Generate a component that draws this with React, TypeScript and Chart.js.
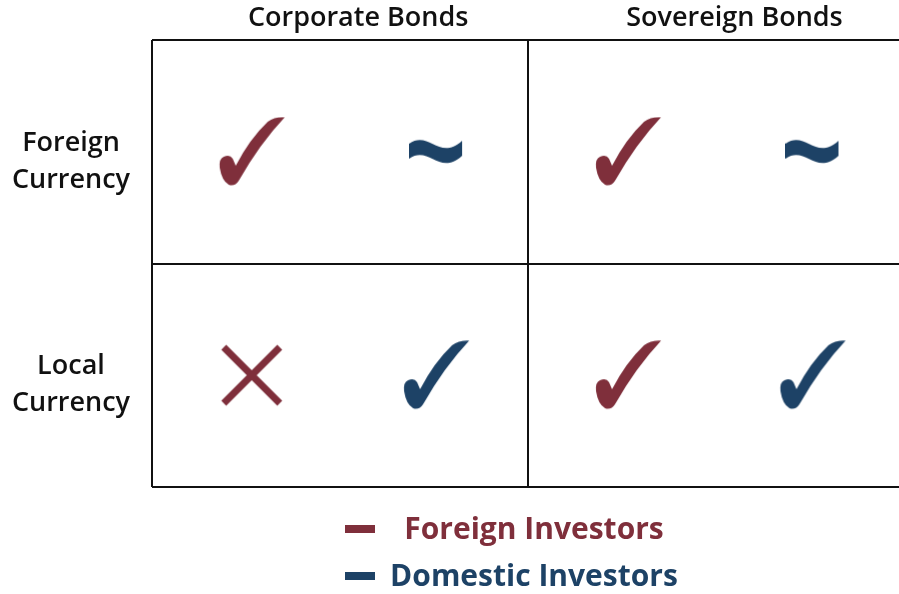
import React, { useEffect, useRef } from "react";
import { Chart, registerables } from "chart.js";

Chart.register(...registerables);

// ---- data ----
const bondTypes = ["Corporate Bonds", "Sovereign Bonds"];
const currencyTypes = [["Foreign", "Currency"], ["Local", "Currency"]];
const investorSeries = ["Foreign Investors", "Domestic Investors"];
// cell verdicts, ordered [row][bondType]: rows = Foreign Currency, Local Currency
const foreignVerdicts = [
  ["check", "check"],
  ["cross", "check"],
];
const domesticVerdicts = [
  ["tilde", "tilde"],
  ["check", "check"],
];

const RED = "#7f2f3b";
const BLUE = "#1d4266";
const FONT = "'Open Sans', 'Noto Sans', sans-serif";

function makeCanvas(w: number, h: number) {
  const c = document.createElement("canvas");
  c.width = w;
  c.height = h;
  return c;
}

function checkSymbol(color: string) {
  const c = makeCanvas(68, 70);
  const ctx = c.getContext("2d")!;
  ctx.fillStyle = color;
  ctx.beginPath();
  ctx.moveTo(50, 5);
  ctx.bezierCurveTo(55, 1, 61, 0, 67, 0.5);
  ctx.quadraticCurveTo(42, 27, 21, 64);
  ctx.quadraticCurveTo(17, 70, 11, 68);
  ctx.quadraticCurveTo(4, 64, 2, 51);
  ctx.quadraticCurveTo(1, 42, 6, 40);
  ctx.quadraticCurveTo(12, 37, 15, 42);
  ctx.lineTo(18, 49);
  ctx.quadraticCurveTo(32, 22, 50, 5);
  ctx.closePath();
  ctx.fill();
  return c;
}

function tildeSymbol(color: string) {
  const c = makeCanvas(54, 26);
  const ctx = c.getContext("2d")!;
  ctx.fillStyle = color;
  const o = 1;
  const t = 15;
  ctx.beginPath();
  ctx.moveTo(0, 4 + o);
  ctx.bezierCurveTo(20, -10 + o, 30, 22 + o, 53, 1 + o);
  ctx.lineTo(53, 1 + o + t);
  ctx.bezierCurveTo(30, 22 + o + t, 20, -10 + o + t, 0, 4 + o + t);
  ctx.closePath();
  ctx.fill();
  return c;
}

function crossSymbol(color: string) {
  const c = makeCanvas(64, 64);
  const ctx = c.getContext("2d")!;
  ctx.strokeStyle = color;
  ctx.lineWidth = 7;
  ctx.lineCap = "butt";
  ctx.beginPath();
  ctx.moveTo(4, 4);
  ctx.lineTo(60, 60);
  ctx.moveTo(60, 4);
  ctx.lineTo(4, 60);
  ctx.stroke();
  return c;
}

function symbolFor(kind: string, color: string) {
  if (kind === "check") return checkSymbol(color);
  if (kind === "tilde") return tildeSymbol(color);
  return crossSymbol(color);
}

function buildPoints(verdicts: string[][], offset: number, color: string) {
  const data: { x: number; y: number }[] = [];
  const styles: HTMLCanvasElement[] = [];
  verdicts.forEach((row, r) => {
    row.forEach((kind, b) => {
      data.push({ x: b * 2 + offset, y: currencyTypes.length - r - 0.5 });
      styles.push(symbolFor(kind, color));
    });
  });
  return { data, styles };
}

const labelsPlugin = {
  id: "matrixLabels",
  afterDraw(chart: any) {
    const { ctx } = chart;
    const xs = chart.scales.x;
    const ys = chart.scales.y;
    ctx.save();
    ctx.fillStyle = "#111";
    ctx.textAlign = "center";
    ctx.textBaseline = "alphabetic";
    ctx.font = `600 27px ${FONT}`;
    bondTypes.forEach((name, i) => {
      ctx.fillText(name, xs.getPixelForValue(i * 2 + 1) + 18, 26);
    });
    ctx.font = `600 27px ${FONT}`;
    currencyTypes.forEach((lines, r) => {
      const cy = ys.getPixelForValue(currencyTypes.length - r - 0.5);
      ctx.fillText(lines[0], 71, cy - 1);
      ctx.fillText(lines[1], 71, cy + 36);
    });
    // legend
    const colors = [RED, BLUE];
    ctx.font = `700 30px ${FONT}`;
    investorSeries.forEach((name, i) => {
      const y = 529 + i * 47;
      ctx.fillStyle = colors[i];
      ctx.fillRect(345, y - 4, 30, 8);
      ctx.fillText(name, 534, y + 10);
    });
    ctx.restore();
  },
};

export default function App() {
  const ref = useRef<HTMLCanvasElement>(null);
  useEffect(() => {
    const f = buildPoints(foreignVerdicts, 0.53, RED);
    const d = buildPoints(domesticVerdicts, 1.51, BLUE);
    const gridLine = { color: "#111", lineWidth: 2, drawTicks: false };
    const chart = new Chart(ref.current!, {
      type: "scatter",
      data: {
        datasets: [
          { label: investorSeries[0], data: f.data, pointStyle: f.styles as any, pointRadius: 30 },
          { label: investorSeries[1], data: d.data, pointStyle: d.styles as any, pointRadius: 30 },
        ],
      },
      options: {
        responsive: false,
        animation: false,
        events: [],
        layout: { autoPadding: false, padding: { left: 152, top: 40, right: 0, bottom: 107 } },
        plugins: { legend: { display: false }, tooltip: { enabled: false } },
        scales: {
          x: {
            type: "linear",
            min: 0,
            max: 3.97,
            ticks: { display: false },
            grid: gridLine,
            border: { display: false },
            afterBuildTicks: (s: any) => {
              s.ticks = [{ value: 0 }, { value: 2 }];
            },
          },
          y: {
            type: "linear",
            min: 0,
            max: 2,
            ticks: { display: false },
            grid: gridLine,
            border: { display: false },
            afterBuildTicks: (s: any) => {
              s.ticks = [{ value: 0 }, { value: 1 }, { value: 2 }];
            },
          },
        },
      },
      plugins: [labelsPlugin],
    });
    return () => chart.destroy();
  }, []);
  return (
    <div style={{ position: "absolute", left: 0, top: 0, width: 899, height: 594, background: "#fff" }}>
      <canvas ref={ref} width={899} height={594} style={{ width: 899, height: 594 }} />
    </div>
  );
}
